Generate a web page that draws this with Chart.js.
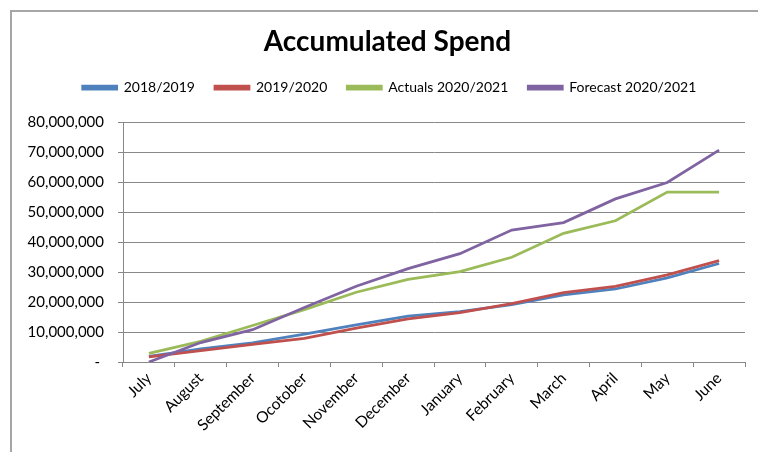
<!DOCTYPE html>
<html>
<head>
<meta charset="utf-8">
<script src="https://cdn.jsdelivr.net/npm/chart.js@4.4.1/dist/chart.umd.min.js"></script>
<style>
    html, body { margin: 0; padding: 0; background: #fff; }
    #wrap { position: relative; width: 758px; height: 452px; overflow: hidden; }
    #frame { position: absolute; left: 10px; top: 10px; width: 760px; height: 460px; border: 2px solid #a6a6a6; box-sizing: border-box; }
    canvas { position: absolute; left: 0; top: 0; }
</style>
</head>
<body>
<div id="wrap">
    <div id="frame"></div>
    <canvas id="spendChart" width="758" height="452"></canvas>
</div>
<script>
// Accumulated spend per month (currency units)
const months = ["July", "August", "September", "Ocotober", "November", "December",
    "January", "February", "March", "April", "May", "June"];
const spend2018 = [1900000, 4400000, 6400000, 9300000, 12400000, 15300000,
    16800000, 19200000, 22400000, 24400000, 28100000, 32900000];
const spend2019 = [1700000, 3800000, 5900000, 7900000, 11300000, 14400000,
    16500000, 19500000, 23200000, 25300000, 29100000, 33900000];
const actuals2020 = [2900000, 6900000, 12200000, 17500000, 23300000, 27600000,
    30200000, 35000000, 43000000, 47200000, 56800000, 56800000];
const forecast2020 = [0, 6500000, 10800000, 18200000, 25300000, 31200000,
    36200000, 44100000, 46600000, 54500000, 60000000, 70800000];
const seriesNames = ["2018/2019", "2019/2020", "Actuals 2020/2021", "Forecast 2020/2021"];
const yTicks = [0, 10000000, 20000000, 30000000, 40000000, 50000000, 60000000, 70000000, 80000000];

const colours = ["#4F81BD", "#C0504D", "#9BBB59", "#8064A2"];
const gridGrey = "#888888";
const FONT = "Lato";

function makeSet(i, data) {
    return {
        label: seriesNames[i],
        data: data,
        borderColor: colours[i],
        backgroundColor: colours[i],
        borderWidth: 2.75,
        pointRadius: 0,
        tension: 0,
        order: 4 - i   // later series drawn on top, like the original
    };
}

// gap under the legend, and title/legend centred a bit to the right
const headerTweak = {
    id: "headerTweak",
    beforeInit(chart) {
        const fit = chart.legend.fit;
        chart.legend.fit = function () {
            fit.bind(chart.legend)();
            this.height += 18;
        };
    },
    afterLayout(chart) {
        chart.titleBlock.left += 15;
        chart.titleBlock.right += 15;
        chart.legend.left += 17;
        chart.legend.right += 17;
    }
};

document.addEventListener("DOMContentLoaded", function () {
    const ctx = document.getElementById("spendChart").getContext("2d");
    new Chart(ctx, {
        type: "line",
        data: {
            labels: months,
            datasets: [
                makeSet(0, spend2018),
                makeSet(1, spend2019),
                makeSet(2, actuals2020),
                makeSet(3, forecast2020)
            ]
        },
        plugins: [headerTweak],
        options: {
            responsive: false,
            animation: false,
            layout: { padding: { left: 0, right: 13, top: 0, bottom: 0 } },
            plugins: {
                title: {
                    display: true,
                    text: "Accumulated Spend",
                    color: "#000",
                    font: { family: FONT, size: 28, weight: "bold" },
                    padding: { top: 25, bottom: 2 }
                },
                legend: {
                    position: "top",
                    labels: {
                        boxWidth: 34,
                        boxHeight: 3,
                        padding: 20,
                        color: "#000",
                        font: { family: FONT, size: 14 },
                        sort: (a, b) => a.datasetIndex - b.datasetIndex
                    }
                },
                tooltip: { enabled: false }
            },
            scales: {
                x: {
                    offset: true,
                    border: { color: gridGrey, width: 1 },
                    grid: {
                        offset: true,
                        drawOnChartArea: false,
                        drawTicks: true,
                        tickLength: 5,
                        color: gridGrey
                    },
                    ticks: {
                        minRotation: 45,
                        maxRotation: 45,
                        autoSkip: false,
                        padding: 2,
                        color: "#000",
                        font: { family: FONT, size: 15.5 }
                    },
                    afterFit(scale) { scale.height = 90; }
                },
                y: {
                    min: 0,
                    max: 80000000,
                    border: { color: gridGrey, width: 1 },
                    grid: { color: gridGrey, tickLength: 5, lineWidth: 1 },
                    afterBuildTicks(scale) {
                        scale.ticks = yTicks.map(v => ({ value: v }));
                    },
                    ticks: {
                        padding: 14,
                        color: "#000",
                        font: { family: FONT, size: 15 },
                        callback: v => v === 0 ? "- " : v.toLocaleString("en-US")
                    },
                    afterFit(scale) { scale.width = 123; }
                }
            }
        }
    });
});
</script>
</body>
</html>
